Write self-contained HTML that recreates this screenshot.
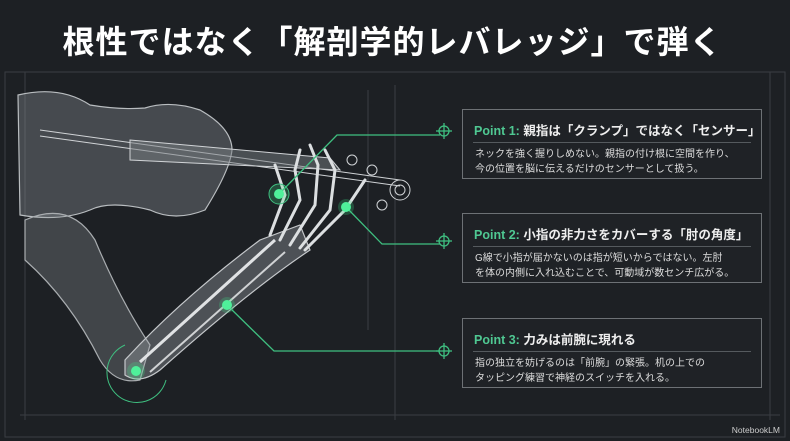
<!DOCTYPE html>
<html><head><meta charset="utf-8"><style>
html,body{margin:0;padding:0;background:#1d2024;}
body{width:790px;height:441px;position:relative;overflow:hidden;font-family:"Liberation Sans","Noto Sans CJK JP",sans-serif;}
.t{position:absolute;left:0;top:17px;width:785px;text-align:center;color:#fff;font-size:32px;font-weight:bold;letter-spacing:1px;}
.box{position:absolute;left:462px;width:298px;height:68px;border:1px solid #6d7175;background:#1f2226;}
.box h3{margin:0;position:absolute;left:11px;top:10px;font-size:12.5px;color:#eee;font-weight:bold;white-space:nowrap;}
.box h3 b{color:#4fc892;}
.box .ln{position:absolute;left:10px;right:10px;top:32px;height:1px;background:#555a5e;}
.box p{margin:0;position:absolute;left:12px;top:37px;font-size:10px;line-height:15px;color:#ddd;white-space:nowrap;}
.nb{position:absolute;right:10px;bottom:6px;color:#ccc;font-size:8.5px;}
svg{overflow:hidden;}
</style></head><body>
<svg width="790" height="441" style="position:absolute;left:0;top:0">
<g stroke="#3a3e43" stroke-width="1" fill="none">
<rect x="5" y="72" width="780" height="365"/>
<line x1="25" y1="72" x2="25" y2="420"/><line x1="20" y1="415" x2="780" y2="415"/>
<line x1="395" y1="85" x2="395" y2="420"/><line x1="770" y1="72" x2="770" y2="420"/>
<line x1="368" y1="90" x2="368" y2="330"/>
</g>
<g stroke="#b9bdc0" stroke-width="1.2" fill="rgba(150,155,160,0.35)">
<path d="M18 95 Q60 85 90 105 Q120 110 145 108 Q170 100 200 110 Q232 128 232 150 Q230 170 205 210 Q175 222 150 210 Q110 200 90 210 Q60 222 20 215 Z"/>
</g>
<g stroke="#d0d3d6" stroke-width="1" fill="none">
<line x1="40" y1="130" x2="400" y2="180"/><line x1="40" y1="136" x2="400" y2="186"/>
<path d="M130 140 L330 158 L340 170 L130 160 Z" fill="rgba(120,125,130,0.5)"/>
<circle cx="400" cy="190" r="10"/><circle cx="400" cy="190" r="5"/>
<circle cx="352" cy="160" r="5"/><circle cx="372" cy="170" r="5"/><circle cx="382" cy="205" r="5"/>
</g>
<path d="M25 220 Q70 200 95 240 Q120 300 150 345 L140 380 Q115 385 100 360 Q70 300 25 260 Z" fill="rgba(150,155,160,0.3)" stroke="#a9adb0" stroke-width="1.2"/>
<path d="M125 360 Q180 300 260 240 L300 225 L310 250 Q250 290 160 370 Q140 385 125 375 Z" fill="rgba(170,175,180,0.35)" stroke="#c5c8cb" stroke-width="1.2"/>
<line x1="140" y1="362" x2="275" y2="240" stroke="#e0e2e4" stroke-width="3"/>
<line x1="150" y1="372" x2="285" y2="252" stroke="#d0d2d4" stroke-width="2"/>
<g stroke="#dcdfe1" stroke-width="3" fill="none" stroke-linecap="round">
<path d="M270 235 L285 195 L275 165"/><path d="M280 240 L300 200 L295 170 L300 150"/>
<path d="M290 245 L315 205 L318 165 L310 145"/><path d="M300 248 L330 210 L335 170 L325 150"/>
<path d="M305 250 L345 210 L365 180"/>
</g>
<g stroke="#3fbf80" stroke-width="1.3" fill="none">
<polyline points="279,194 337,135 440,135"/>
<polyline points="346,207 382,244 440,244"/>
<polyline points="227,305 274,351 440,351"/>
<path d="M125 345 A30 30 0 1 0 166 380" stroke-width="1"/>
</g>
<g fill="#4ff09a">
<circle cx="279" cy="194" r="10" fill="rgba(60,220,130,0.25)" stroke="#3fbf80"/><circle cx="279" cy="194" r="5"/>
<circle cx="346" cy="207" r="8" fill="rgba(60,220,130,0.25)"/><circle cx="346" cy="207" r="5"/>
<circle cx="227" cy="305" r="8" fill="rgba(60,220,130,0.25)"/><circle cx="227" cy="305" r="5"/>
<circle cx="136" cy="371" r="9" fill="rgba(60,220,130,0.25)"/><circle cx="136" cy="371" r="5"/>
</g>
<g stroke="#3fbf80" stroke-width="1.3" fill="none">
<circle cx="444" cy="131" r="5"/><line x1="436" y1="131" x2="452" y2="131"/><line x1="444" y1="123" x2="444" y2="139"/>
<circle cx="444" cy="241" r="5"/><line x1="436" y1="241" x2="452" y2="241"/><line x1="444" y1="233" x2="444" y2="249"/>
<circle cx="444" cy="351" r="5"/><line x1="436" y1="351" x2="452" y2="351"/><line x1="444" y1="343" x2="444" y2="359"/>
</g>
</svg>
<div class="t">根性ではなく「解剖学的レバレッジ」で弾く</div>
<div class="box" style="top:109px"><h3><b>Point 1:</b> 親指は「クランプ」ではなく「センサー」</h3><div class="ln"></div><p>ネックを強く握りしめない。親指の付け根に空間を作り、<br>今の位置を脳に伝えるだけのセンサーとして扱う。</p></div>
<div class="box" style="top:213px"><h3><b>Point 2:</b> 小指の非力さをカバーする「肘の角度」</h3><div class="ln"></div><p>G線で小指が届かないのは指が短いからではない。左肘<br>を体の内側に入れ込むことで、可動域が数センチ広がる。</p></div>
<div class="box" style="top:318px"><h3><b>Point 3:</b> 力みは前腕に現れる</h3><div class="ln"></div><p>指の独立を妨げるのは「前腕」の緊張。机の上での<br>タッピング練習で神経のスイッチを入れる。</p></div>
<div class="nb">NotebookLM</div>
</body></html>
